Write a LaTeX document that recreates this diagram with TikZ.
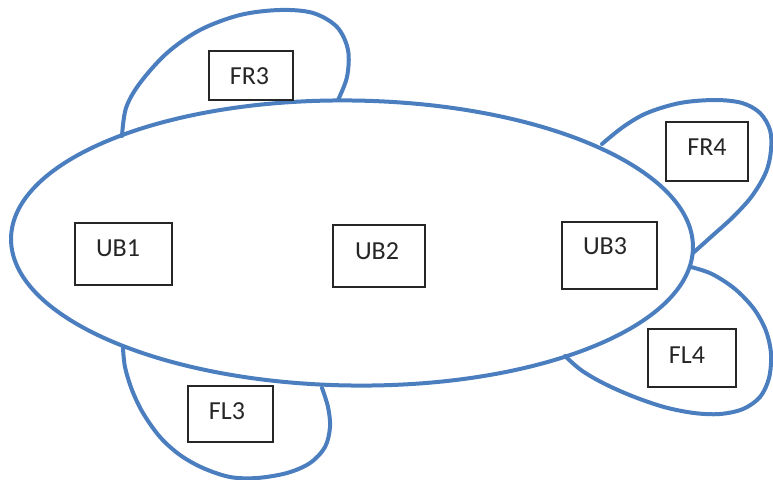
\documentclass[tikz,border=0pt]{standalone}
\usepackage{fontspec}
\setmainfont{Carlito}
\definecolor{shapeblue}{HTML}{4A7EBF}
\definecolor{boxline}{HTML}{262626}
\begin{document}
\begin{tikzpicture}[x=1pt, y=-1pt,
  outline/.style={draw=shapeblue, line width=4pt, line join=round, line cap=round},
  unitbox/.style={draw=boxline, fill=white, line width=1.4pt, rectangle, inner sep=0pt,
    font=\fontsize{26}{30}\selectfont, text=boxline},
  tag/.style={font=\fontsize{26}{30}\selectfont, text=boxline, inner sep=0pt}]
\useasboundingbox (0,0) rectangle (773,479);

% outer lobes, each ending on the body outline
\draw[outline] plot[smooth, tension=0.55] coordinates {
  (122,136) (126,108) (140,83) (167,53) (200,30) (240,15) (280,10)
  (313,13) (337,27) (348,50) (347,77) (338,100)};
\draw[outline] plot[smooth, tension=0.55] coordinates {
  (602,144) (623,127) (647,113) (680,103) (715,100) (742,103) (760,113)
  (770,130) (771,150) (766,172) (752,196) (733,217) (712,236) (693,253)};
\draw[outline] plot[smooth, tension=0.55] coordinates {
  (691,267) (712,274) (735,289) (754,309) (766,331) (771,354) (769,378)
  (760,397) (743,409) (720,414) (694,413) (664,407) (632,396) (603,383)
  (581,370) (565,356)};
\draw[outline] plot[smooth, tension=0.55] coordinates {
  (123,348) (125,367) (132,390) (143,413) (160,437) (180,455) (203,468)
  (230,477) (257,478) (287,473) (310,463) (325,447) (330,427) (328,407)
  (322,388)};

% main body
\draw[outline, rotate around={-0.8:(352,243)}] (352,243)
  ellipse [x radius=341pt, y radius=142.5pt];

% unit boxes
\node[unitbox, minimum width=97pt, minimum height=62pt,
  label={[tag, shift={(-5.5,-5.5)}]center:UB1}] (ub1) at (123.5,254) {};
\node[unitbox, minimum width=92pt, minimum height=62pt,
  label={[tag, shift={(-2,-4.5)}]center:UB2}] (ub2) at (379,256) {};
\node[unitbox, minimum width=95pt, minimum height=67pt,
  label={[tag, shift={(-4.5,-9)}]center:UB3}] (ub3) at (609.5,255.5) {};
\node[unitbox, minimum width=84pt, minimum height=49pt,
  label={[tag, shift={(-1.5,1)}]center:FR3}] (fr3) at (251,75.5) {};
\node[unitbox, minimum width=82pt, minimum height=59pt,
  label={[tag, shift={(0,-4.5)}]center:FR4}] (fr4) at (707,151.5) {};
\node[unitbox, minimum width=88pt, minimum height=58pt,
  label={[tag, shift={(-5,-3)}]center:FL4}] (fl4) at (692,358) {};
\node[unitbox, minimum width=85pt, minimum height=56pt,
  label={[tag, shift={(-3.5,-3)}]center:FL3}] (fl3) at (230.5,414) {};
\end{tikzpicture}
\end{document}
